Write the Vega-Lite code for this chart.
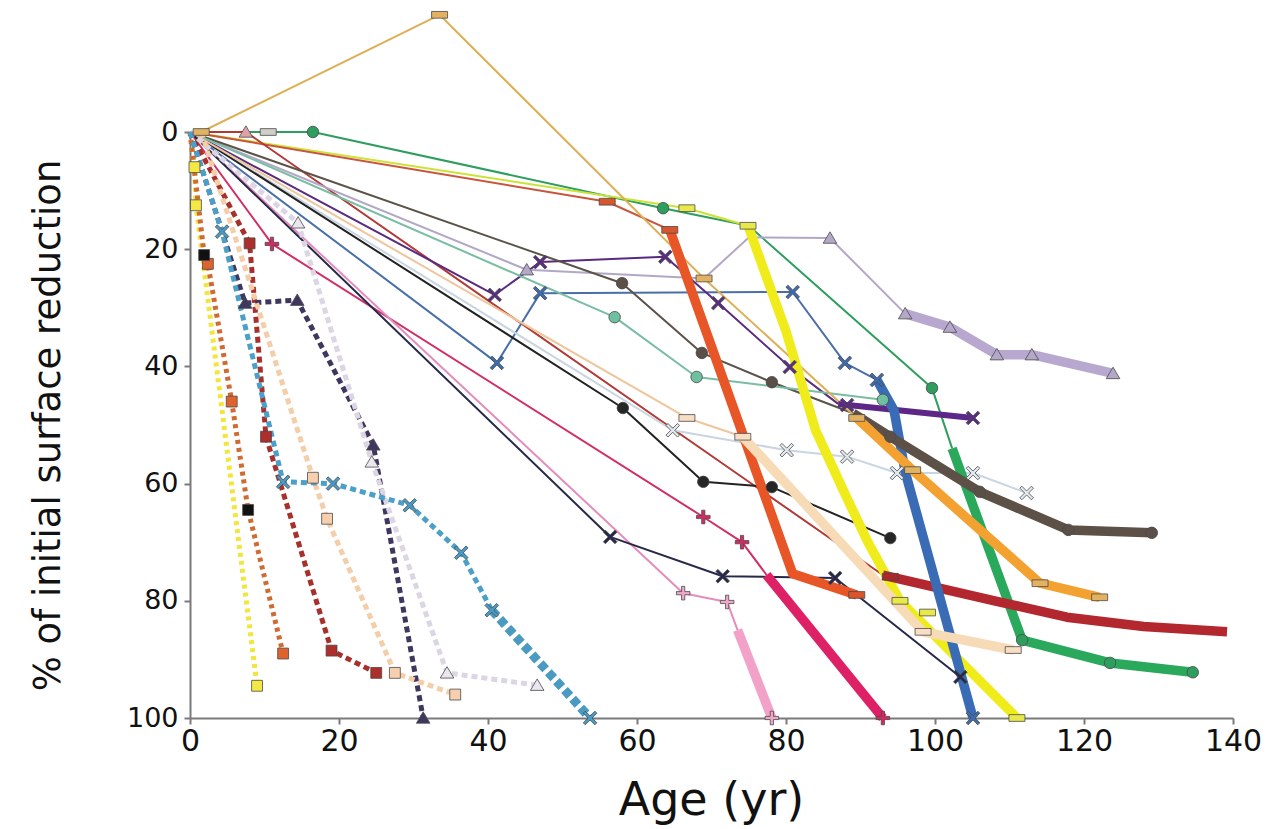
{
  "$schema": "https://vega.github.io/schema/vega-lite/v6.json",
  "width": 1043,
  "height": 586,
  "autosize": {"type": "none"},
  "padding": {"left": 190, "top": 132, "right": 48, "bottom": 111},
  "background": "white",
  "config": {
    "view": {"stroke": null},
    "axis": {"grid": false, "domainColor": "#7a7a7a", "domainWidth": 2, "tickColor": "#7a7a7a", "tickWidth": 2, "labelFont": "DejaVu Sans", "labelColor": "#111111", "titleFont": "DejaVu Sans", "titleColor": "#111111", "titleFontWeight": "normal"}
  },
  "datasets": {
    "lines": [
      {"s":"d_yellow","x":0,"y":0},{"s":"d_yellow","x":0.6,"y":6},{"s":"d_yellow","x":0.8,"y":12.5},{"s":"d_yellow","x":9,"y":94.5},
      {"s":"d_orange","x":0,"y":0},{"s":"d_orange","x":1.9,"y":21},{"s":"d_orange","x":2.4,"y":22.5},{"s":"d_orange","x":5.6,"y":46},{"s":"d_orange","x":7.8,"y":64.5},{"s":"d_orange","x":12.5,"y":89},
      {"s":"d_red","x":0,"y":0},{"s":"d_red","x":8,"y":19},{"s":"d_red","x":10.2,"y":52},{"s":"d_red","x":19,"y":88.5},{"s":"d_red","x":25,"y":92.3},
      {"s":"d_navy","x":0,"y":0},{"s":"d_navy","x":7.4,"y":29.2},{"s":"d_navy","x":14.4,"y":28.7},{"s":"d_navy","x":24.6,"y":53.4},{"s":"d_navy","x":31.3,"y":100},
      {"s":"d_lgray","x":0,"y":0},{"s":"d_lgray","x":14.5,"y":15.5},{"s":"d_lgray","x":24.4,"y":56.3},{"s":"d_lgray","x":34.5,"y":92.3},{"s":"d_lgray","x":46.6,"y":94.4},
      {"s":"d_peach","x":1.5,"y":0},{"s":"d_peach","x":16.5,"y":59},{"s":"d_peach","x":18.4,"y":66},{"s":"d_peach","x":27.5,"y":92.3},{"s":"d_peach","x":35.6,"y":96},
      {"s":"d_blue","x":0,"y":0},{"s":"d_blue","x":4.3,"y":17},{"s":"d_blue","x":12.5,"y":59.7},{"s":"d_blue","x":19.2,"y":60},{"s":"d_blue","x":29.5,"y":63.7},{"s":"d_blue","x":36.4,"y":71.8},{"s":"d_blue","x":40.5,"y":81.6},
      {"s":"d_blue_t","x":40.5,"y":81.6},{"s":"d_blue_t","x":53.7,"y":100},
      {"s":"green","x":0,"y":0},{"s":"green","x":16.5,"y":0},{"s":"green","x":63.5,"y":13},{"s":"green","x":75,"y":16},{"s":"green","x":99.6,"y":43.7},{"s":"green","x":102.3,"y":54},
      {"s":"yellow","x":0,"y":0},{"s":"yellow","x":66.7,"y":13},{"s":"yellow","x":74.9,"y":16},
      {"s":"orred","x":0,"y":0},{"s":"orred","x":56,"y":11.9},{"s":"orred","x":64.4,"y":16.7},
      {"s":"dkred","x":0,"y":0},{"s":"dkred","x":7.5,"y":0},{"s":"dkred","x":93,"y":75.6},
      {"s":"crimson","x":0,"y":0},{"s":"crimson","x":11,"y":19.1},{"s":"crimson","x":68.9,"y":65.7},{"s":"crimson","x":74.1,"y":70},{"s":"crimson","x":77.4,"y":75.6},
      {"s":"pink","x":0,"y":0},{"s":"pink","x":66.2,"y":78.7},{"s":"pink","x":72.1,"y":80.2},{"s":"pink","x":73.5,"y":85},
      {"s":"blue","x":0,"y":0},{"s":"blue","x":41.2,"y":39.4},{"s":"blue","x":47,"y":27.5},{"s":"blue","x":80.9,"y":27.3},{"s":"blue","x":87.9,"y":39.4},{"s":"blue","x":92.2,"y":42.3},
      {"s":"purple","x":0,"y":0},{"s":"purple","x":40.9,"y":27.8},{"s":"purple","x":47,"y":22.2},{"s":"purple","x":63.8,"y":21.3},{"s":"purple","x":70.9,"y":29.2},{"s":"purple","x":80.5,"y":40.1},{"s":"purple","x":87,"y":46.4},
      {"s":"lav","x":0,"y":0},{"s":"lav","x":45.2,"y":23.5},{"s":"lav","x":69,"y":25},{"s":"lav","x":75,"y":18},{"s":"lav","x":85.9,"y":18.1},{"s":"lav","x":96,"y":31},
      {"s":"lgx","x":0,"y":0},{"s":"lgx","x":64.8,"y":50.9},{"s":"lgx","x":80.1,"y":54.3},{"s":"lgx","x":88.2,"y":55.4},{"s":"lgx","x":94.9,"y":58.2},{"s":"lgx","x":105.1,"y":58.2},{"s":"lgx","x":112.3,"y":61.6},
      {"s":"brown","x":0,"y":0},{"s":"brown","x":58,"y":25.8},{"s":"brown","x":68.7,"y":37.7},{"s":"brown","x":78.1,"y":42.7},{"s":"brown","x":89,"y":48},
      {"s":"black","x":0,"y":0},{"s":"black","x":58.1,"y":47.1},{"s":"black","x":68.9,"y":59.7},{"s":"black","x":78.1,"y":60.6},{"s":"black","x":94,"y":69.3},
      {"s":"teal","x":0,"y":0},{"s":"teal","x":57,"y":31.6},{"s":"teal","x":68,"y":41.8},{"s":"teal","x":93,"y":45.7},
      {"s":"wheat","x":0,"y":0},{"s":"wheat","x":66.7,"y":48.8},{"s":"wheat","x":74.2,"y":52},
      {"s":"tan","x":1.5,"y":0},{"s":"tan","x":33.5,"y":-20},{"s":"tan","x":69,"y":25},{"s":"tan","x":89.5,"y":48.8},
      {"s":"navyx","x":0,"y":0},{"s":"navyx","x":56.4,"y":69.1},{"s":"navyx","x":71.5,"y":75.8},{"s":"navyx","x":86.6,"y":76.1},{"s":"navyx","x":103.4,"y":93},
      {"s":"green_t","x":102.3,"y":54},{"s":"green_t","x":111.7,"y":86.7},{"s":"green_t","x":123.5,"y":90.6},{"s":"green_t","x":134.6,"y":92.2},
      {"s":"yellow_t","x":74.9,"y":16},{"s":"yellow_t","x":80,"y":34},{"s":"yellow_t","x":84,"y":51},{"s":"yellow_t","x":88,"y":62},{"s":"yellow_t","x":91,"y":70},{"s":"yellow_t","x":95.3,"y":80},{"s":"yellow_t","x":111,"y":100},
      {"s":"orred_t","x":64.4,"y":16.7},{"s":"orred_t","x":80.9,"y":75.4},{"s":"orred_t","x":89.5,"y":79},
      {"s":"dkred_t","x":93,"y":75.6},{"s":"dkred_t","x":99.7,"y":77.6},{"s":"dkred_t","x":108,"y":80},{"s":"dkred_t","x":117.7,"y":82.8},{"s":"dkred_t","x":128,"y":84.4},{"s":"dkred_t","x":139.2,"y":85.3},
      {"s":"crimson_t","x":77.4,"y":75.6},{"s":"crimson_t","x":93,"y":100},
      {"s":"pink_t","x":73.5,"y":85},{"s":"pink_t","x":78.1,"y":100},
      {"s":"blue_t","x":92.2,"y":42.3},{"s":"blue_t","x":94.5,"y":47.5},{"s":"blue_t","x":96,"y":58},{"s":"blue_t","x":105.1,"y":100},
      {"s":"brown_t","x":89,"y":48},{"s":"brown_t","x":94,"y":52},{"s":"brown_t","x":106,"y":61.4},{"s":"brown_t","x":117.9,"y":67.9},{"s":"brown_t","x":129.1,"y":68.4},
      {"s":"lav_t","x":96,"y":31},{"s":"lav_t","x":102,"y":33.3},{"s":"lav_t","x":108.3,"y":38},{"s":"lav_t","x":113,"y":38},{"s":"lav_t","x":123.9,"y":41.2},
      {"s":"wheat_t","x":74.2,"y":52},{"s":"wheat_t","x":98.4,"y":85.3},{"s":"wheat_t","x":110.5,"y":88.4},
      {"s":"orange_t","x":89.5,"y":48.8},{"s":"orange_t","x":97,"y":57.7},{"s":"orange_t","x":114.1,"y":77},{"s":"orange_t","x":122.1,"y":79.4},
      {"s":"purple_t","x":87,"y":46.4},{"s":"purple_t","x":105.1,"y":48.8}
    ],
    "marks": [
      {"s":"m_ysq","x":0.6,"y":6},{"s":"m_ysq","x":0.8,"y":12.5},{"s":"m_ysq","x":9,"y":94.5},
      {"s":"m_yrect","x":66.7,"y":13},{"s":"m_yrect","x":74.9,"y":16},{"s":"m_yrect","x":95.3,"y":80},{"s":"m_yrect","x":99,"y":82},{"s":"m_yrect","x":111,"y":100},
      {"s":"m_osq","x":2.4,"y":22.5},{"s":"m_osq","x":5.6,"y":46},{"s":"m_osq","x":12.5,"y":89},
      {"s":"m_blk","x":1.9,"y":21},{"s":"m_blk","x":7.8,"y":64.5},
      {"s":"m_rsq","x":8,"y":19},{"s":"m_rsq","x":10.2,"y":52},{"s":"m_rsq","x":19,"y":88.5},{"s":"m_rsq","x":25,"y":92.3},
      {"s":"m_navytri","x":7.4,"y":29.2},{"s":"m_navytri","x":14.4,"y":28.7},{"s":"m_navytri","x":24.6,"y":53.4},{"s":"m_navytri","x":31.3,"y":100},
      {"s":"m_lgtri","x":14.5,"y":15.5},{"s":"m_lgtri","x":24.4,"y":56.3},{"s":"m_lgtri","x":34.5,"y":92.3},{"s":"m_lgtri","x":46.6,"y":94.4},
      {"s":"m_peachsq","x":16.5,"y":59},{"s":"m_peachsq","x":18.4,"y":66},{"s":"m_peachsq","x":27.5,"y":92.3},{"s":"m_peachsq","x":35.6,"y":96},
      {"s":"m_bluex","x":4.3,"y":17},{"s":"m_bluex","x":12.5,"y":59.7},{"s":"m_bluex","x":19.2,"y":60},{"s":"m_bluex","x":29.5,"y":63.7},{"s":"m_bluex","x":36.4,"y":71.8},{"s":"m_bluex","x":40.5,"y":81.6},{"s":"m_bluex","x":53.7,"y":100},
      {"s":"m_green","x":16.5,"y":0},{"s":"m_green","x":63.5,"y":13},{"s":"m_green","x":99.6,"y":43.7},{"s":"m_green","x":111.7,"y":86.7},{"s":"m_green","x":123.5,"y":90.6},{"s":"m_green","x":134.6,"y":92.2},
      {"s":"m_orrect","x":56,"y":11.9},{"s":"m_orrect","x":64.4,"y":16.7},{"s":"m_orrect","x":89.5,"y":79},
      {"s":"m_dkrect","x":94,"y":75.9},
      {"s":"m_crim","x":11,"y":19.1},{"s":"m_crim","x":68.9,"y":65.7},{"s":"m_crim","x":74.1,"y":70},{"s":"m_crim","x":93,"y":100},
      {"s":"m_pink","x":66.2,"y":78.7},{"s":"m_pink","x":72.1,"y":80.2},{"s":"m_pink","x":78.1,"y":100},
      {"s":"m_bluex2","x":41.2,"y":39.4},{"s":"m_bluex2","x":47,"y":27.5},{"s":"m_bluex2","x":80.9,"y":27.3},{"s":"m_bluex2","x":87.9,"y":39.4},{"s":"m_bluex2","x":92.2,"y":42.3},{"s":"m_bluex2","x":105.1,"y":100},
      {"s":"m_purx","x":40.9,"y":27.8},{"s":"m_purx","x":47,"y":22.2},{"s":"m_purx","x":63.8,"y":21.3},{"s":"m_purx","x":70.9,"y":29.2},{"s":"m_purx","x":80.5,"y":40.1},{"s":"m_purx","x":88.2,"y":46.6},{"s":"m_purx","x":105.1,"y":48.8},
      {"s":"m_lavtri","x":45.2,"y":23.5},{"s":"m_lavtri","x":85.9,"y":18.1},{"s":"m_lavtri","x":96,"y":31},{"s":"m_lavtri","x":102,"y":33.3},{"s":"m_lavtri","x":108.3,"y":38},{"s":"m_lavtri","x":113,"y":38},{"s":"m_lavtri","x":123.9,"y":41.2},
      {"s":"m_lgx","x":64.8,"y":50.9},{"s":"m_lgx","x":80.1,"y":54.3},{"s":"m_lgx","x":88.2,"y":55.4},{"s":"m_lgx","x":94.9,"y":58.2},{"s":"m_lgx","x":105.1,"y":58.2},{"s":"m_lgx","x":112.3,"y":61.6},
      {"s":"m_brownc","x":58,"y":25.8},{"s":"m_brownc","x":68.7,"y":37.7},{"s":"m_brownc","x":78.1,"y":42.7},{"s":"m_brownc","x":94,"y":52},{"s":"m_brownc","x":106,"y":61.4},{"s":"m_brownc","x":117.9,"y":67.9},{"s":"m_brownc","x":129.1,"y":68.4},
      {"s":"m_blackc","x":58.1,"y":47.1},{"s":"m_blackc","x":68.9,"y":59.7},{"s":"m_blackc","x":78.1,"y":60.6},{"s":"m_blackc","x":94,"y":69.3},
      {"s":"m_tealc","x":57,"y":31.6},{"s":"m_tealc","x":68,"y":41.8},{"s":"m_tealc","x":93,"y":45.7},
      {"s":"m_wheatrect","x":66.7,"y":48.8},{"s":"m_wheatrect","x":74.2,"y":52},{"s":"m_wheatrect","x":98.4,"y":85.3},{"s":"m_wheatrect","x":110.5,"y":88.4},
      {"s":"m_tanrect","x":1.5,"y":0},{"s":"m_tanrect","x":33.5,"y":-20},{"s":"m_tanrect","x":69,"y":25},{"s":"m_tanrect","x":89.5,"y":48.8},{"s":"m_tanrect","x":97,"y":57.7},{"s":"m_tanrect","x":114.1,"y":77},{"s":"m_tanrect","x":122.1,"y":79.4},
      {"s":"m_navyx","x":56.4,"y":69.1},{"s":"m_navyx","x":71.5,"y":75.8},{"s":"m_navyx","x":86.6,"y":76.1},{"s":"m_navyx","x":103.4,"y":93},
      {"s":"m_grayrect","x":10.5,"y":0},
      {"s":"m_pinktri","x":7.5,"y":0}
    ]
  },
  "encoding": {
    "x": {"field": "x", "type": "quantitative", "scale": {"domain": [0, 140], "nice": false, "zero": false},
      "axis": {"values": [0, 20, 40, 60, 80, 100, 120, 140], "tickSize": 6, "labelPadding": 2, "labelFontSize": 30, "labelFlush": false, "labelOverlap": false,
        "title": "Age (yr)", "titleFontSize": 46, "titleX": 521, "titleY": 82, "titleAlign": "center", "titleBaseline": "middle"}},
    "y": {"field": "y", "type": "quantitative", "scale": {"domain": [0, 100], "reverse": true, "nice": false, "zero": false},
      "axis": {"values": [0, 20, 40, 60, 80, 100], "tickSize": 6, "labelPadding": 6, "labelFontSize": 27, "labelOverlap": false, "labelFlush": false,
        "title": "% of initial surface reduction", "titleFontSize": 37, "titleAngle": -90, "titleX": -142, "titleY": 293, "titleAlign": "center", "titleBaseline": "middle"}}
  },
  "layer": [
    {
      "data": {"name": "lines"},
      "transform": [{"filter": {"field": "s", "oneOf": ["green","yellow","orred","dkred","crimson","pink","blue","purple","lav","lgx","brown","black","teal","wheat","tan","navyx"]}}],
      "mark": {"type": "line", "strokeWidth": 2, "strokeJoin": "round"},
      "encoding": {
        "color": {"field": "s", "type": "nominal", "legend": null,
          "scale": {
            "domain": ["d_yellow","d_orange","d_red","d_navy","d_lgray","d_peach","d_blue","d_blue_t","green","yellow","orred","dkred","crimson","pink","blue","purple","lav","lgx","brown","black","teal","wheat","tan","navyx","green_t","yellow_t","orred_t","dkred_t","crimson_t","pink_t","blue_t","brown_t","lav_t","wheat_t","orange_t","purple_t"],
            "range": ["#f2e53c","#cf6a33","#a8302c","#3f3760","#dcd5e3","#f4cda9","#4aa0c8","#4a9ac2","#2e9e5e","#cce236","#c8553c","#b23a36","#d22e66","#e58cbc","#4a6fa8","#582a80","#b3a7c6","#c9d5e2","#5b5248","#222222","#79bda3","#efc69c","#ddb055","#26294a","#2aa85c","#f0ec1c","#e85526","#b2282e","#de2066","#f2a2c8","#3a6cb6","#5d5046","#b8a8d0","#f7dab6","#f3a232","#5c2787"]
          }}
      }
    },
    {
      "data": {"name": "lines"},
      "transform": [{"filter": {"field": "s", "oneOf": ["d_yellow","d_orange","d_red","d_navy","d_lgray","d_peach","d_blue"]}}],
      "mark": {"type": "line", "strokeWidth": 5, "strokeJoin": "round"},
      "encoding": {
        "color": {"field": "s", "type": "nominal", "legend": null},
        "strokeDash": {"field": "s", "type": "nominal", "legend": null,
          "scale": {"type": "ordinal", "domain": ["d_yellow","d_orange","d_red","d_navy","d_lgray","d_peach","d_blue"],
            "range": [[4,4],[4,4],[6,4],[6,4],[6,4],[6,4],[6,4]]}}
      }
    },
    {
      "data": {"name": "lines"},
      "transform": [{"filter": {"field": "s", "oneOf": ["d_blue_t"]}}],
      "mark": {"type": "line", "strokeWidth": 9, "strokeDash": [8, 4]},
      "encoding": {"color": {"field": "s", "type": "nominal", "legend": null}}
    },
    {
      "data": {"name": "lines"},
      "transform": [{"filter": {"field": "s", "oneOf": ["purple_t"]}}],
      "mark": {"type": "line", "strokeWidth": 6, "strokeJoin": "round"},
      "encoding": {"color": {"field": "s", "type": "nominal", "legend": null}}
    },
    {
      "data": {"name": "lines"},
      "transform": [{"filter": {"field": "s", "oneOf": ["lav_t","wheat_t","brown_t","orange_t","dkred_t","green_t","blue_t","yellow_t","orred_t","crimson_t","pink_t"]}}],
      "mark": {"type": "line", "strokeWidth": 9.5, "strokeJoin": "round"},
      "encoding": {"color": {"field": "s", "type": "nominal", "legend": null}}
    },
    {
      "data": {"name": "marks"},
      "mark": {"type": "point", "filled": true, "opacity": 1, "stroke": "#4a4a4a", "strokeWidth": 0.8, "size": 256},
      "encoding": {
        "fill": {"field": "s", "type": "nominal", "legend": null,
          "scale": {
            "domain": ["m_ysq","m_yrect","m_osq","m_blk","m_rsq","m_navytri","m_lgtri","m_peachsq","m_bluex","m_green","m_orrect","m_dkrect","m_crim","m_pink","m_bluex2","m_purx","m_lavtri","m_lgx","m_brownc","m_blackc","m_tealc","m_wheatrect","m_tanrect","m_navyx","m_grayrect","m_pinktri"],
            "range": ["#f3e844","#e8e84a","#e0622c","#111111","#ad2e2a","#3f3760","#ebe6ef","#f7cfae","#4a9cc8","#2e9e5e","#d9552c","#a82a2a","#d42a62","#f0a8c8","#3d6cb0","#5a2d82","#b4a8c8","#e2e8ef","#5a5048","#262626","#6fc0a0","#f8dec4","#e2b262","#25284a","#cfcfc8","#e0a0a8"]
          }},
        "shape": {"field": "s", "type": "nominal", "legend": null,
          "scale": {
            "domain": ["m_ysq","m_yrect","m_osq","m_blk","m_rsq","m_navytri","m_lgtri","m_peachsq","m_bluex","m_green","m_orrect","m_dkrect","m_crim","m_pink","m_bluex2","m_purx","m_lavtri","m_lgx","m_brownc","m_blackc","m_tealc","m_wheatrect","m_tanrect","m_navyx","m_grayrect","m_pinktri"],
            "range": [
              "M-0.68,-0.68H0.68V0.68H-0.68Z",
              "M-1,-0.42H1V0.42H-1Z",
              "M-0.68,-0.68H0.68V0.68H-0.68Z",
              "M-0.68,-0.68H0.68V0.68H-0.68Z",
              "M-0.68,-0.68H0.68V0.68H-0.68Z",
              "M0,-0.78L0.85,0.65H-0.85Z",
              "M0,-0.78L0.85,0.65H-0.85Z",
              "M-0.68,-0.68H0.68V0.68H-0.68Z",
              "M-0.85,-0.6L-0.6,-0.85L0,-0.25L0.6,-0.85L0.85,-0.6L0.25,0L0.85,0.6L0.6,0.85L0,0.25L-0.6,0.85L-0.85,0.6L-0.25,0Z",
              "M0.72,0A0.72,0.72,0,1,1,-0.72,0A0.72,0.72,0,1,1,0.72,0Z",
              "M-1,-0.42H1V0.42H-1Z",
              "M-1,-0.42H1V0.42H-1Z",
              "M-0.2,-0.85H0.2V-0.2H0.85V0.2H0.2V0.85H-0.2V0.2H-0.85V-0.2H-0.2Z",
              "M-0.2,-0.85H0.2V-0.2H0.85V0.2H0.2V0.85H-0.2V0.2H-0.85V-0.2H-0.2Z",
              "M-0.85,-0.6L-0.6,-0.85L0,-0.25L0.6,-0.85L0.85,-0.6L0.25,0L0.85,0.6L0.6,0.85L0,0.25L-0.6,0.85L-0.85,0.6L-0.25,0Z",
              "M-0.85,-0.6L-0.6,-0.85L0,-0.25L0.6,-0.85L0.85,-0.6L0.25,0L0.85,0.6L0.6,0.85L0,0.25L-0.6,0.85L-0.85,0.6L-0.25,0Z",
              "M0,-0.78L0.85,0.65H-0.85Z",
              "M-0.85,-0.6L-0.6,-0.85L0,-0.25L0.6,-0.85L0.85,-0.6L0.25,0L0.85,0.6L0.6,0.85L0,0.25L-0.6,0.85L-0.85,0.6L-0.25,0Z",
              "M0.72,0A0.72,0.72,0,1,1,-0.72,0A0.72,0.72,0,1,1,0.72,0Z",
              "M0.72,0A0.72,0.72,0,1,1,-0.72,0A0.72,0.72,0,1,1,0.72,0Z",
              "M0.72,0A0.72,0.72,0,1,1,-0.72,0A0.72,0.72,0,1,1,0.72,0Z",
              "M-1,-0.42H1V0.42H-1Z",
              "M-1,-0.42H1V0.42H-1Z",
              "M-0.85,-0.6L-0.6,-0.85L0,-0.25L0.6,-0.85L0.85,-0.6L0.25,0L0.85,0.6L0.6,0.85L0,0.25L-0.6,0.85L-0.85,0.6L-0.25,0Z",
              "M-1,-0.42H1V0.42H-1Z",
              "M0,-0.78L0.85,0.65H-0.85Z"
            ]
          }}
      }
    }
  ]
}
